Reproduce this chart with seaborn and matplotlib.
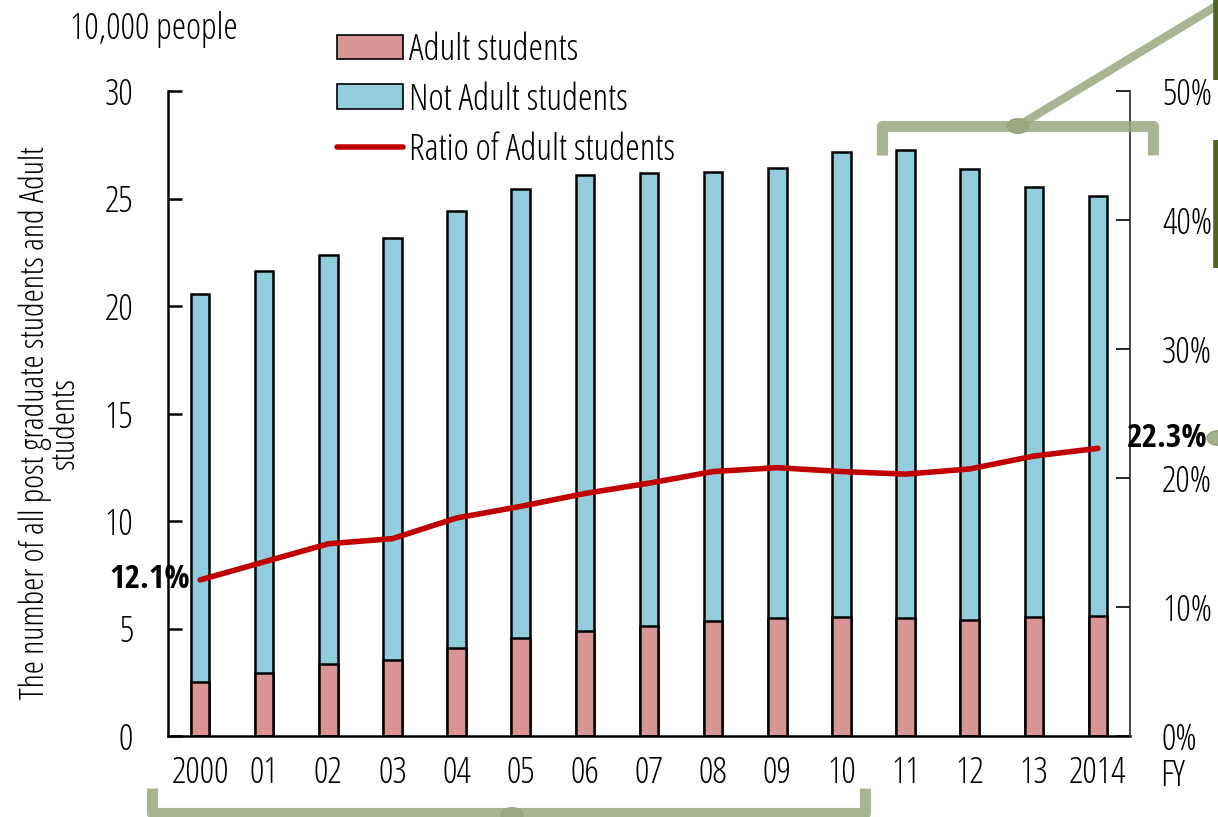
import numpy as np
import pandas as pd
import matplotlib.pyplot as plt
import seaborn as sns
from matplotlib.patches import Patch, Circle
from matplotlib.lines import Line2D

# ── Data (10,000 people / %) ───────────────────────────────────
years = ["2000", "01", "02", "03", "04", "05", "06", "07",
         "08", "09", "10", "11", "12", "13", "2014"]
total_students = [20.55, 21.65, 22.35, 23.15, 24.4, 25.45, 26.1, 26.2,
                  26.25, 26.4, 27.15, 27.25, 26.35, 25.55, 25.1]
adult_students = [2.5, 2.93, 3.35, 3.53, 4.09, 4.56, 4.88, 5.12,
                  5.35, 5.49, 5.53, 5.49, 5.4, 5.53, 5.58]
adult_ratio = [12.1, 13.5, 14.9, 15.3, 16.9, 17.8, 18.8, 19.6,
               20.5, 20.8, 20.5, 20.3, 20.7, 21.7, 22.3]

df = pd.DataFrame({"year": years, "total": total_students,
                   "adult": adult_students, "ratio": adult_ratio})
df["pos"] = np.arange(len(df))

pink = "#d99594"
blue = "#93cddd"
red = "#c00000"
deco = "#9aa77f"

sns.set_style("white")
# light condensed face for normal text, bold condensed for the two callouts
plt.rcParams["font.family"] = ["Open Sans", "Liberation Sans", "DejaVu Sans"]
plt.rcParams["font.stretch"] = "condensed"
plt.rcParams["font.weight"] = "light"
plt.rcParams["font.size"] = 24
plt.rcParams["text.color"] = "black"
plt.rcParams["xtick.color"] = "black"
plt.rcParams["ytick.color"] = "black"
plt.rcParams["axes.labelcolor"] = "black"
bold_family = ["Open Sans Condensed", "Liberation Sans", "DejaVu Sans"]

W, H = 1218, 817
fig = plt.figure(figsize=(W / 100, H / 100), dpi=100)
ax = fig.add_axes([168 / W, 1 - 736 / H, (1130 - 168) / W, (736 - 91) / H])

# stacked bars: total (blue) behind, adult (pink) in front
sns.barplot(data=df, x="year", y="total", color=blue, width=0.29,
            edgecolor="black", linewidth=1.8, saturation=1, ax=ax)
sns.barplot(data=df, x="year", y="adult", color=pink, width=0.29,
            edgecolor="black", linewidth=1.8, saturation=1, ax=ax)

ax.set_xlim(-0.5, len(years) - 0.5)
ax.set_ylim(0, 30)
ax.set_yticks(range(0, 31, 5))
ax.set_xticks(np.arange(len(years)))
ax.set_xticklabels(years)
ax.set_xlabel("")
ax.set_ylabel("The number of all post graduate students and Adult\nstudents",
              fontsize=24, linespacing=0.85)
ax.yaxis.set_label_coords(-0.09, 0.485)
for s in ["top", "right"]:
    ax.spines[s].set_visible(False)
for s in ["left", "bottom"]:
    ax.spines[s].set_linewidth(1.8)
    ax.spines[s].set_color("black")
ax.tick_params(axis="y", direction="in", length=10, width=1.8, pad=25, labelsize=26)
ax.tick_params(axis="x", length=0, pad=14, labelsize=26)
# tick marks between categories
ax.set_xticks(np.arange(len(years) + 1) - 0.5, minor=True)
ax.tick_params(axis="x", which="minor", direction="in", length=10, width=1.8)

# ratio line on right axis
ax2 = ax.twinx()
sns.lineplot(data=df, x="pos", y="ratio", color=red, linewidth=4, ax=ax2)
ax2.set_ylim(0, 50)
ax2.set_yticks(range(0, 51, 10))
ax2.set_yticklabels([f"{v}%" for v in range(0, 51, 10)])
ax2.set_ylabel("")
ax2.set_xlabel("")
for s in ["top", "left", "bottom"]:
    ax2.spines[s].set_visible(False)
ax2.spines["right"].set_linewidth(1.2)
ax2.tick_params(axis="y", direction="in", length=10, width=1.2, pad=23, labelsize=26)
ax2.set_xlim(-0.5, len(years) - 0.5)

ax2.text(df["pos"].iloc[0] - 0.15, adult_ratio[0], f"{adult_ratio[0]}%",
         ha="right", va="center", fontsize=24, fontweight="bold",
         family=bold_family)
ax2.text(df["pos"].iloc[-1] + 0.45, adult_ratio[-1] + 0.8, f"{adult_ratio[-1]}%",
         ha="left", va="center", fontsize=24, fontweight="bold",
         family=bold_family)

fig.text(70 / W, 1 - 30 / H, "10,000 people", fontsize=26, va="center")
fig.text(1160 / W, 1 - 776 / H, "FY", fontsize=26, va="center")

handles = [Patch(facecolor=pink, edgecolor="black", linewidth=1.2),
           Patch(facecolor=blue, edgecolor="black", linewidth=1.2),
           Line2D([], [], color=red, linewidth=4)]
fig.legend(handles, ["Adult students", "Not Adult students", "Ratio of Adult students"],
           loc="upper left", bbox_to_anchor=(311 / W, 1 - 6 / H), frameon=False,
           fontsize=26.5, handlelength=1.8, handleheight=0.65, handletextpad=0.15,
           labelspacing=0.35, borderpad=0.2)


# ── slide decorations (green brackets / connectors) ─────────────
def px(x, y):
    return x / W, 1 - y / H


def deco_line(xs, ys, lw=8, color=deco, alpha=0.85):
    pts = [px(x, y) for x, y in zip(xs, ys)]
    fig.add_artist(Line2D([p[0] for p in pts], [p[1] for p in pts],
                          transform=fig.transFigure, color=color, lw=lw,
                          alpha=alpha, solid_capstyle="butt",
                          solid_joinstyle="round"))


deco_line([882, 882, 1153, 1153], [155, 126, 126, 155])
deco_line([1018, 1218], [126, 5], lw=6)
deco_line([152, 152, 865, 865], [788, 813, 813, 788])
for cx, cy in [(1018, 126), (512, 815), (1218, 438)]:
    fig.add_artist(Circle(px(cx, cy), 11 / W, transform=fig.transFigure,
                          color="#7f8f5e", alpha=0.7))
deco_line([1216, 1216], [0, 80], lw=4, color="#4f6228", alpha=1)
deco_line([1216, 1216], [140, 268], lw=4, color="#4f6228", alpha=1)

fig.savefig("out.png", dpi=100)
